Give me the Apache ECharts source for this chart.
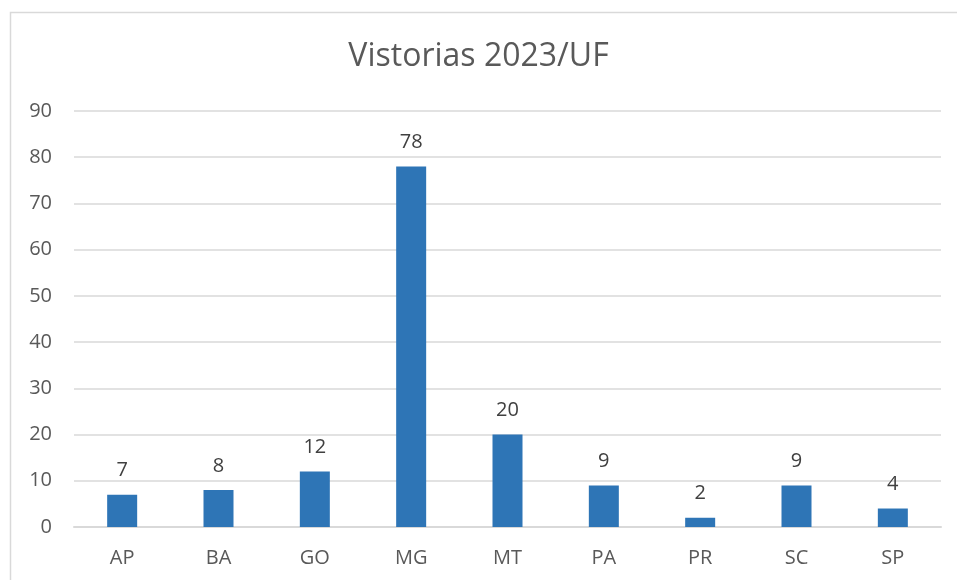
<!DOCTYPE html>
<html>
<head>
<meta charset="utf-8">
<script src="https://cdn.jsdelivr.net/npm/echarts@6/dist/echarts.min.js"></script>
<style>
  html, body { margin: 0; padding: 0; background: #fff; }
  #chart { width: 957px; height: 580px; }
</style>
</head>
<body>
<div id="chart"></div>
<script>
// estados (UF) e número de vistorias
const categories = ['AP', 'BA', 'GO', 'MG', 'MT', 'PA', 'PR', 'SC', 'SP'];
const vistorias = [7, 8, 12, 78, 20, 9, 2, 9, 4];
const yTicks = [0, 10, 20, 30, 40, 50, 60, 70, 80, 90];

const font = '"Open Sans", "Noto Sans", sans-serif';
const chart = echarts.init(document.getElementById('chart'));

chart.setOption({
  animation: false,
  backgroundColor: '#fff',
  textStyle: { fontFamily: font },
  graphic: [{
    type: 'rect',
    shape: { x: 10.5, y: 12.5, width: 960, height: 600 },
    style: { fill: 'none', stroke: '#d9d9d9', lineWidth: 1.5 },
    silent: true
  }],
  title: {
    text: 'Vistorias 2023/UF',
    left: 'center',
    top: 36,
    textStyle: { fontFamily: font, fontSize: 32, fontWeight: 'normal', color: '#595959' }
  },
  grid: { left: 74, right: 16, top: 111, bottom: 53 },
  xAxis: {
    type: 'category',
    data: categories,
    axisLine: { lineStyle: { color: '#d9d9d9', width: 2 } },
    axisTick: { show: false },
    axisLabel: { color: '#595959', fontSize: 20, margin: 21, fontFamily: font }
  },
  yAxis: {
    type: 'value',
    min: yTicks[0],
    max: yTicks[yTicks.length - 1],
    interval: 10,
    axisLine: { show: false },
    axisTick: { show: false },
    splitLine: { lineStyle: { color: '#d9d9d9', width: 1.5 } },
    axisLabel: { color: '#595959', fontSize: 20, margin: 22, fontFamily: font }
  },
  series: [{
    type: 'bar',
    data: vistorias,
    barWidth: 30,
    itemStyle: { color: '#2e75b6' },
    label: {
      show: true,
      position: 'top',
      distance: 14,
      color: '#404040',
      fontSize: 20,
      fontFamily: font
    }
  }]
});
</script>
</body>
</html>
